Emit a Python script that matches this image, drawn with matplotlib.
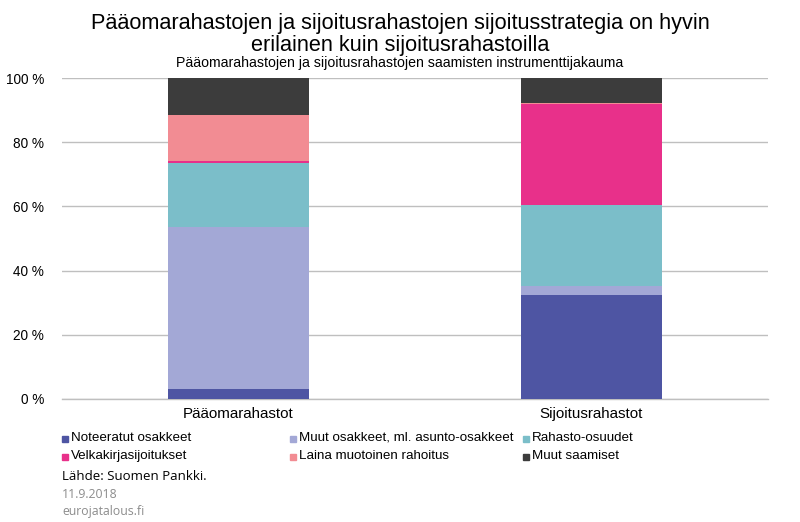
import matplotlib
matplotlib.use("Agg")
import matplotlib.pyplot as plt
from matplotlib.patches import Rectangle
import numpy as np

plt.rcParams['font.family'] = ['Liberation Sans', 'DejaVu Sans']

categories = ["Pääomarahastot", "Sijoitusrahastot"]
series_names = ["Noteeratut osakkeet", "Muut osakkeet, ml. asunto-osakkeet", "Rahasto-osuudet",
                "Velkakirjasijoitukset", "Laina muotoinen rahoitus", "Muut saamiset"]
noteeratut = [3.1, 32.5]
muut_osakkeet = [50.4, 2.8]
rahasto = [20.1, 25.1]
velkakirja = [0.6, 31.4]
laina = [14.2, 0.3]
muut_saamiset = [11.6, 7.9]
yticks = [0, 20, 40, 60, 80, 100]
ytick_labels = ["0 %", "20 %", "40 %", "60 %", "80 %", "100 %"]

colors = ["#4E55A3", "#A3A8D6", "#7BBEC9", "#E8308A", "#F28C93", "#3C3C3C"]
series = [noteeratut, muut_osakkeet, rahasto, velkakirja, laina, muut_saamiset]

fig = plt.figure(figsize=(8, 5.22), dpi=100)
ax = fig.add_axes([62/800, (522-399)/522, (768-62)/800, (399-78)/522])

x = np.arange(len(categories))
bottom = np.zeros(len(categories))
for vals, c, name in zip(series, colors, series_names):
    ax.bar(x, vals, bottom=bottom, width=0.4, color=c, label=name, zorder=3)
    bottom += np.array(vals)

ax.set_xlim(-0.5, 1.5)
ax.set_ylim(0, 100)
ax.set_yticks(yticks)
ax.set_yticklabels(ytick_labels, fontsize=9.8)
ax.set_xticks(x)
ax.set_xticklabels(categories, fontsize=10.9)
ax.tick_params(axis='both', length=0, pad=6)
ax.tick_params(axis='y', pad=13)
ax.grid(axis='y', color='#BFBFBF', linewidth=1, zorder=0)
for s in ['left', 'right', 'top']:
    ax.spines[s].set_visible(False)
ax.spines['bottom'].set_color('#BFBFBF')
ax.spines['bottom'].set_linewidth(1)

fig.text(0.5, 1 - 23/522, "Pääomarahastojen ja sijoitusrahastojen sijoitusstrategia on hyvin",
         ha='center', va='center', fontsize=15.6)
fig.text(0.5, 1 - 46/522, "erilainen kuin sijoitusrahastoilla",
         ha='center', va='center', fontsize=15.6)
fig.text(0.5, 1 - 63/522, "Pääomarahastojen ja sijoitusrahastojen saamisten instrumenttijakauma",
         ha='center', va='center', fontsize=10.2)

# legend
col_x = [62, 290, 523]
row_y = [438, 456]
for i, (name, c) in enumerate(zip(series_names, colors)):
    cx = col_x[i % 3]
    cy = row_y[i // 3]
    fig.patches.append(Rectangle((cx/800, 1 - (cy + 3.5)/522), 6/800, 6/522,
                                 transform=fig.transFigure, color=c, figure=fig))
    fig.text((cx + 9)/800, 1 - cy/522, name, ha='left', va='center', fontsize=9.6)

fig.text(62/800, 1 - 476/522, "Lähde: Suomen Pankki.", ha='left', va='center',
         fontsize=9.5, family=['Open Sans', 'DejaVu Sans'])
fig.text(62/800, 1 - 494/522, "11.9.2018", ha='left', va='center',
         fontsize=8.8, color='#8C8C8C', family=['Open Sans', 'DejaVu Sans'])
fig.text(62/800, 1 - 511/522, "eurojatalous.fi", ha='left', va='center',
         fontsize=8.8, color='#8C8C8C', family=['Open Sans', 'DejaVu Sans'])

fig.savefig("out.png", dpi=100)
